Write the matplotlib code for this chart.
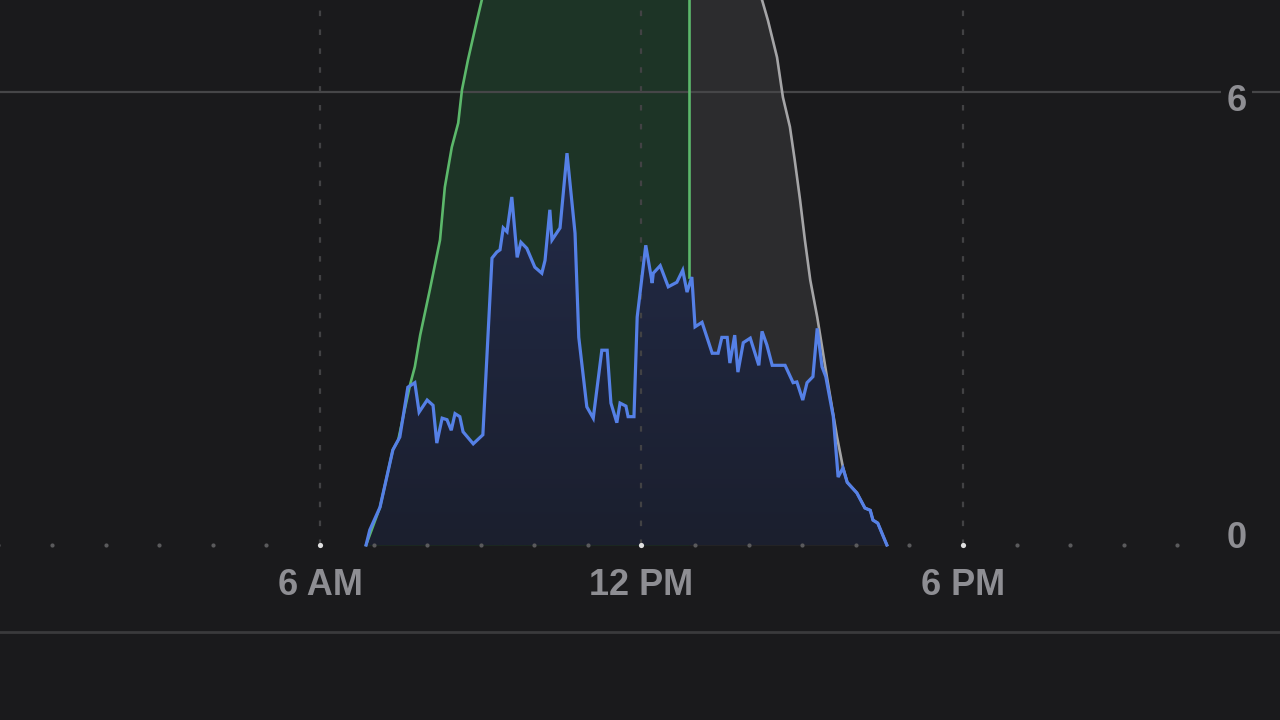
import numpy as np
import matplotlib
matplotlib.use("Agg")
import matplotlib.pyplot as plt
from matplotlib.patches import Polygon

# --- data (hours of day, kW) ---
actual_h = [6.86, 6.93, 7.12, 7.36, 7.49, 7.64, 7.77, 7.85, 8.00, 8.11, 8.18, 8.28, 8.37, 8.45,
            8.52, 8.61, 8.67, 8.86, 9.04, 9.21, 9.30, 9.36, 9.42, 9.49, 9.58, 9.68, 9.75, 9.86,
            10.01, 10.14, 10.20, 10.29, 10.33, 10.48, 10.61, 10.76, 10.83, 10.98, 11.10, 11.26,
            11.36, 11.43, 11.54, 11.60, 11.71, 11.75, 11.86, 11.92, 12.08, 12.20, 12.22, 12.35,
            12.50, 12.66, 12.77, 12.85, 12.94, 13.00, 13.13, 13.32, 13.43, 13.50, 13.60, 13.65,
            13.74, 13.80, 13.90, 14.03, 14.19, 14.25, 14.34, 14.44, 14.68, 14.83, 14.90, 15.01,
            15.09, 15.20, 15.28, 15.37, 15.44, 15.58, 15.67, 15.76, 15.84, 16.02, 16.17, 16.27,
            16.32, 16.41, 16.58]
actual_kw = [0.0, 0.20, 0.50, 1.26, 1.43, 2.09, 2.15, 1.76, 1.92, 1.85, 1.35, 1.68, 1.66, 1.52,
             1.74, 1.70, 1.50, 1.34, 1.46, 3.80, 3.88, 3.91, 4.20, 4.15, 4.61, 3.81, 4.01, 3.93,
             3.68, 3.60, 3.77, 4.44, 4.04, 4.20, 5.19, 4.13, 2.75, 1.83, 1.68, 2.58,
             2.58, 1.88, 1.62, 1.88, 1.84, 1.70, 1.70, 3.02, 3.97, 3.47, 3.60, 3.70,
             3.42, 3.48, 3.64, 3.35, 3.55, 2.89, 2.95, 2.54, 2.54, 2.75, 2.75, 2.41,
             2.78, 2.29, 2.68, 2.74, 2.38, 2.83, 2.65, 2.38, 2.38, 2.15, 2.16, 1.92,
             2.15, 2.23, 2.87, 2.36, 2.23, 1.70, 0.90, 1.02, 0.83, 0.69, 0.49, 0.46,
             0.33, 0.29, 0.0]

forecast_h = [6.86, 7.12, 7.36, 7.46, 7.68, 7.77, 7.87, 8.05, 8.24, 8.33, 8.46, 8.58, 8.65,
              8.76, 8.93, 9.02, 9.5, 10.0, 10.5, 11.0, 11.5, 12.0, 12.5, 12.89, 13.5, 14.0,
              14.25, 14.36, 14.53, 14.64, 14.77, 14.86, 14.96, 15.05, 15.15, 15.28, 15.46,
              15.65, 15.76, 15.84, 16.02, 16.17, 16.27, 16.32, 16.41, 16.58]
forecast_kw = [0.0, 0.50, 1.26, 1.39, 2.12, 2.36, 2.78, 3.38, 4.04, 4.74, 5.27, 5.59, 6.03,
               6.42, 6.95, 7.22, 7.95, 8.40, 8.70, 8.85, 8.90, 8.85, 8.70, 8.50, 8.10, 7.60,
               7.22, 6.95, 6.46, 5.93, 5.54, 5.10, 4.57, 4.04, 3.51, 3.02, 2.23,
               1.43, 1.03, 0.83, 0.69, 0.49, 0.46, 0.33, 0.29, 0.0]

now_h = 12.89
now_kw = 3.55

x_ticks = [6, 12, 18]
x_labels = ["6 AM", "12 PM", "6 PM"]
y_ticks = [0, 6]

bg = "#1a1a1c"
plt.rcParams["font.family"] = ["Liberation Sans", "DejaVu Sans"]

fig = plt.figure(figsize=(12.8, 7.2), dpi=100, facecolor=bg)
ax = fig.add_axes([0, 0, 1, 1])
ax.set_facecolor(bg)
ax.set_xlim(0.028, 23.917)
ax.set_ylim(-2.318, 7.219)
ax.axis("off")

fh = np.array(forecast_h)
fk = np.array(forecast_kw)
ah = np.array(actual_h)
ak = np.array(actual_kw)

# grid (drawn over the fills, under the lines)
ax.axhline(6, color="#464648", lw=1.6, zorder=4.5)
ax.axhline(-1.152, color="#3a3a3c", lw=2, zorder=1)
for t in x_ticks:
    ax.plot([t, t], [0, 7.3], color="#424244", lw=1.6, ls=(0, (2.5, 6)), zorder=4.5)

# forecast areas
ax.fill_between(fh, fk, 0, where=fh <= now_h, color="#1d3426", lw=0, zorder=2)
ax.fill_between(fh, fk, 0, where=fh >= now_h, color="#2c2c2e", lw=0, zorder=2)
past = fh <= now_h
ax.plot(fh[past], fk[past], color="#5cb86b", lw=1.9, zorder=4.6)
ax.plot(fh[~past], fk[~past], color="#a5a5a7", lw=1.9, zorder=4.6)
ax.plot([now_h, now_h], [now_kw, 8.5], color="#5cb86b", lw=1.9, zorder=4.6)

# actual area with vertical gradient
poly = Polygon(np.column_stack([np.r_[ah, ah[::-1]], np.r_[ak, np.zeros_like(ak)]]),
               closed=True, facecolor="none", edgecolor="none")
ax.add_patch(poly)
grad = np.linspace(0, 1, 256).reshape(-1, 1)
cmap = matplotlib.colors.LinearSegmentedColormap.from_list("b", ["#1b1f2e", "#222b48"])
im = ax.imshow(grad, extent=[ah.min(), ah.max(), 0, ak.max()], origin="lower",
               aspect="auto", cmap=cmap, zorder=4)
im.set_clip_path(poly)
ax.plot(ah, ak, color="#5580e6", lw=2.3, zorder=5, solid_joinstyle="miter")

# hourly dots on baseline
hours = np.arange(0, 24)
small = [h for h in hours if h not in x_ticks]
ax.scatter(small, np.zeros(len(small)), s=9, color="#5a5a5c", zorder=6, lw=0)
ax.scatter(x_ticks, np.zeros(len(x_ticks)), s=14, color="#e0e0e0", zorder=6, lw=0)

# labels
for t, lab in zip(x_ticks, x_labels):
    ax.text(t, -0.53, lab, ha="center", va="center", fontsize=26, fontweight="bold",
            color="#8e8e93", zorder=7)
for v, off in zip(y_ticks, [4.5, -6.5]):
    ax.annotate(str(v), (23.1, v), xytext=(0, off), textcoords="offset points",
                ha="center", va="center", fontsize=26, fontweight="bold", color="#8e8e93",
                zorder=7, bbox=dict(boxstyle="square,pad=0.15", fc=bg, ec="none"))

fig.savefig("out.png", dpi=100, facecolor=bg)
